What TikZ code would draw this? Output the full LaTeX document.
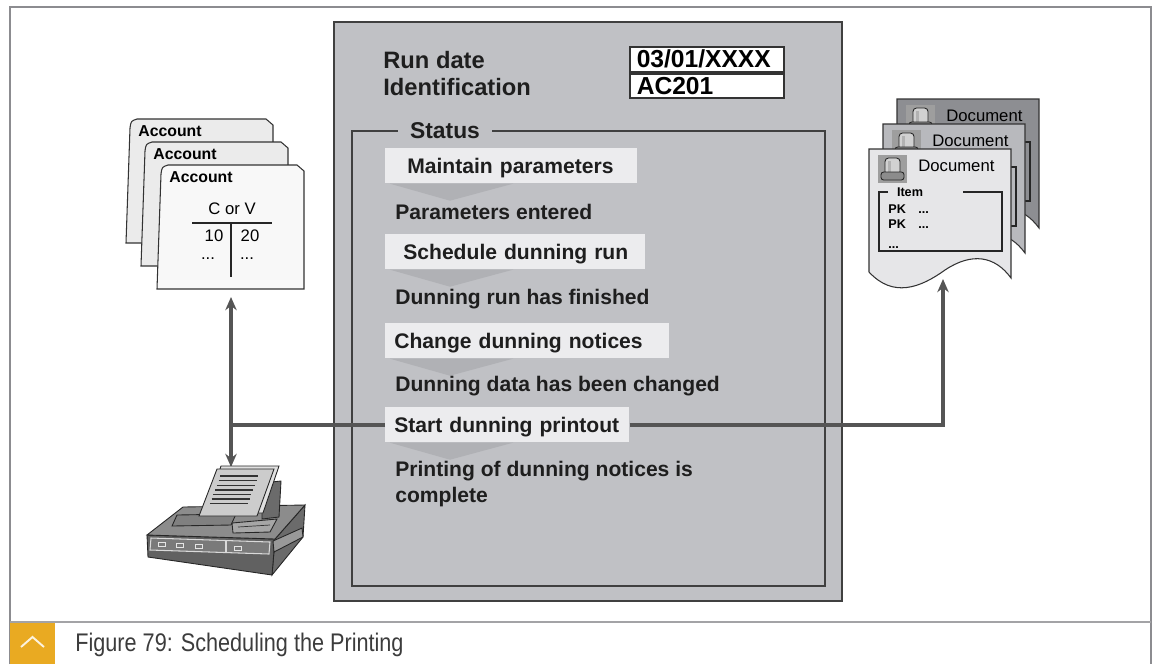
\documentclass[tikz,border=0pt]{standalone}
\usepackage{fontspec}
\setmainfont{Liberation Sans}
\newfontfamily\capfont{Liberation Sans}[FakeStretch=0.85]
\usepackage{tikz}
\usetikzlibrary{arrows.meta}
\usepackage{xcolor}

\definecolor{framegray}{HTML}{8C8C90}
\definecolor{panelgray}{HTML}{C0C1C5}
\definecolor{chevgray}{HTML}{B0B1B5}
\definecolor{stepwhite}{HTML}{ECECEE}
\definecolor{linegray}{HTML}{555555}
\definecolor{textdark}{HTML}{1E1E1E}
\definecolor{capgray}{HTML}{3C3C3C}
\definecolor{capbar}{HTML}{E9AA22}
\definecolor{cardback}{HTML}{EBEBEB}
\definecolor{cardfront}{HTML}{F8F8F8}
\definecolor{pageA}{HTML}{8D8E92}
\definecolor{pageB}{HTML}{B8B9BD}
\definecolor{pageC}{HTML}{E6E6E8}

\tikzset{
  stepbox/.style={fill=stepwhite, anchor=north west, minimum height=0.7cm,
    inner xsep=0.18cm, inner ysep=0pt, text width=#1, align=left,
    text height=9.2pt, text depth=0pt,
    text=textdark, font=\bfseries\fontsize{12}{14}\selectfont},
  state/.style={anchor=west, inner sep=0pt, align=left, text=textdark,
    font=\bfseries\fontsize{12}{14.7}\selectfont},
  head/.style={anchor=west, inner sep=0pt, text=textdark,
    font=\bfseries\fontsize{13.5}{15}\selectfont},
  valbox/.style={draw=black!80, fill=white, line width=0.9pt, anchor=north west,
    inner xsep=0.14cm, inner ysep=0pt, text width=2.8cm, align=left,
    minimum height=#1, font=\bfseries\fontsize{14}{15}\selectfont},
  flow/.style={draw=linegray, line width=2pt},
  outline/.style={draw=black!85, line width=0.5pt},
  acct/.style={anchor=west, inner sep=0pt, font=\bfseries\fontsize{9}{10}\selectfont},
  small/.style={inner sep=0pt, font=\fontsize{9.5}{11}\selectfont},
  itemtxt/.style={inner sep=0pt, align=left, font=\bfseries\fontsize{7.2}{8.5}\selectfont},
}

\begin{document}
\begin{tikzpicture}[x=0.02cm,y=-0.02cm,>={Stealth[length=7.5pt,width=6.5pt]}]
        \useasboundingbox (0,0) rectangle (1155,664);

        %------------------
        % 外枠とキャプション
        %------------------

        \draw[framegray, line width=1.3pt] (10,664) -- (10,7) -- (1151,7) -- (1151,664);
        \draw[framegray!80, line width=0.9pt] (10,622) -- (1151,622);
        \fill[capbar] (10,623) rectangle (55,664);
        \draw[white!85!capbar, line width=1.1pt] (21,647) -- (32.5,637) -- (44,647);
        \node[anchor=west, inner sep=0pt, text=capgray,
              font=\capfont\fontsize{14.5}{16}\selectfont] (caption) at (75,645)
              {Figure 79: Scheduling the Printing};

        %------------------
        % 中央のパネル
        %------------------

        \draw[fill=panelgray, draw=black!75, line width=0.9pt] (334,22) rectangle (842,601);

        \node[head] (rundate) at (383,60) {Run date};
        \node[head] (ident) at (383,87) {Identification};
        \node[valbox=0.5cm] (dateval) at (629,46) {03/01/XXXX};
        \node[valbox=0.48cm] (identval) at (629,73) {AC201};

        % Status の枠
        \draw[draw=black!75, line width=0.9pt] (352,131) rectangle (825,586);
        \node[fill=panelgray, inner xsep=0.24cm, inner ysep=1pt, text=textdark,
              font=\bfseries\fontsize{13}{15}\selectfont] (status) at (445,131) {Status};

        % 処理ステップ
        \node[stepbox=4.68cm] (maint) at (385,148) {\hspace*{0.26cm}Maintain parameters};
        \node[stepbox=4.84cm] (sched) at (385,234) {\hspace*{0.18cm}Schedule dunning run};
        \node[stepbox=5.32cm] (change) at (385,323) {Change dunning notices};
        \node[stepbox=4.52cm] (printout) at (385,407) {Start dunning printout};

        \foreach \s in {maint,sched,change,printout}
          \fill[chevgray] (\s.south west) ++(5,0) -- ++(123,0) -- ++(-63,17) -- cycle;

        \node[state] (entered) at (395,212) {Parameters entered};
        \node[state] (finished) at (395,299) {Dunning run has finished};
        \node[state] (changed) at (395,386) {Dunning data has been changed};
        \node[state] (complete) at (395,484) {Printing of dunning notices is\\complete};

        %------------------
        % 勘定（左）
        %------------------

        \foreach \cx/\cy/\cf/\i in {126/119/cardback/1, 141/142/cardback/2, 157/165/cardfront/3}
        {
          \draw[fill=\cf, draw=black!80, line width=0.6pt]
            (\cx,\cy+124) -- (\cx+4,\cy+9) .. controls (\cx+5,\cy+2) .. (\cx+11,\cy)
            -- (\cx+140,\cy) -- (\cx+147,\cy+6) -- (\cx+147,\cy+124) -- cycle;
          \node[acct] (acc\i) at (\cx+12,\cy+12) {Account};
        }

        % T勘定
        \node[small] (cv) at (232,209) {C or V};
        \draw[black!85, line width=1.1pt] (192,223) -- (272,223);
        \draw[black!85, line width=1.1pt] (231,223) -- (231,277);
        \node[small] (debit) at (214,236) {10};
        \node[small] (credit) at (250,236) {20};
        \node[small] (debitmore) at (208,259) {...};
        \node[small] (creditmore) at (247,259) {...};

        %------------------
        % 伝票（右）
        %------------------

        \foreach \dx/\dy/\df/\i in {28/-50/pageA/1, 14/-25/pageB/2, 0/0/pageC/3}
        {
          \begin{scope}[shift={(\dx,\dy)}]
            \draw[fill=\df, draw=black!80, line width=0.6pt]
              (869,149) -- (1011,149) -- (1011,278)
              .. controls (995,256) and (972,252) .. (945,270)
              .. controls (920,288) and (893,298) .. (869,272) -- cycle;
            % アイコン
            \fill[black!38] (878,155) rectangle (907,183);
            \draw[fill=black!18, draw=black!85, line width=0.5pt, rounded corners=2pt]
              (885,158) rectangle (900,175);
            \fill[white!70!black] (888,161) rectangle (891,172);
            \draw[fill=black!45, draw=black!85, line width=0.5pt, rounded corners=1.5pt]
              (881,172) rectangle (904,180);
            \node[small, anchor=west] (doc\i) at (918,166) {Document};
            % Item の枠
            \draw[black!85, line width=0.7pt]
              (888,192) -- (879,192) -- (879,251) -- (1002,251) -- (1002,192) -- (963,192);
          \end{scope}
        }

        % 手前の伝票の明細
        \node[itemtxt] (item) at (910,192) {Item};
        \node[itemtxt, anchor=north west] (pk) at (888,204)
          {\makebox[0.6cm][l]{PK}...\\\makebox[0.6cm][l]{PK}...\\[3pt]...};

        %------------------
        % 矢印
        %------------------

        \coordinate (acctfoot) at (231,297);
        \coordinate (prntop) at (231,467);
        \coordinate (docfoot) at (943,279);

        \draw[flow,<->] (acctfoot) -- (prntop);
        \draw[flow] (printout.west) -- (printout.west -| acctfoot);
        \draw[flow,->] (printout.east) -| (docfoot);

        %------------------
        % プリンタ
        %------------------

        \filldraw[outline, fill=black!58] (275,539) -- (305,505) -- (303,537) -- (272,575) -- cycle;
        \filldraw[outline, fill=black!62] (147,535) -- (275,539) -- (272,575) -- (148,557) -- cycle;
        \filldraw[outline, fill=black!45] (147,535) -- (183,507) -- (305,505) -- (275,539) -- cycle;
        \filldraw[outline, fill=black!50] (177,515) -- (236,514) -- (231,525) -- (172,526) -- cycle;
        \filldraw[outline, fill=black!58] (262,483) -- (281,481) -- (279,517) -- (262,519) -- cycle;
        % 用紙
        \filldraw[outline, fill=black!12] (221,466) -- (279,466) -- (263,513) -- (205,513) -- cycle;
        \filldraw[outline, fill=black!20] (217,469) -- (274,469) -- (257,516) -- (199,516) -- cycle;
        \foreach \k in {0,...,6}
          \draw[black!80, line width=0.8pt]
            ({223-0.383*(7+4.6*\k)},{476+4.6*\k}) -- ++(38,0);
        % 操作部と排紙トレイ
        \filldraw[outline, fill=black!35] (232,523) -- (277,519) -- (270,532) -- (233,533) -- cycle;
        \draw[black!80] (238,527) -- (270,525);
        \filldraw[outline, fill=black!40] (273,541) -- (302,528) -- (303,537) -- (274,552) -- cycle;
        \filldraw[draw=black!15, line width=0.6pt, fill=black!52]
          (151,538) -- (270,542) -- (269,554) -- (150,550) -- cycle;
        \draw[black!15, line width=0.6pt] (226,540) -- (226,552);
        \foreach \bx/\by in {158/542, 176/543, 195/544, 234/546}
          \draw[black!10, line width=0.5pt] (\bx,\by) rectangle ++(7,4);
      \end{tikzpicture}
\end{document}
